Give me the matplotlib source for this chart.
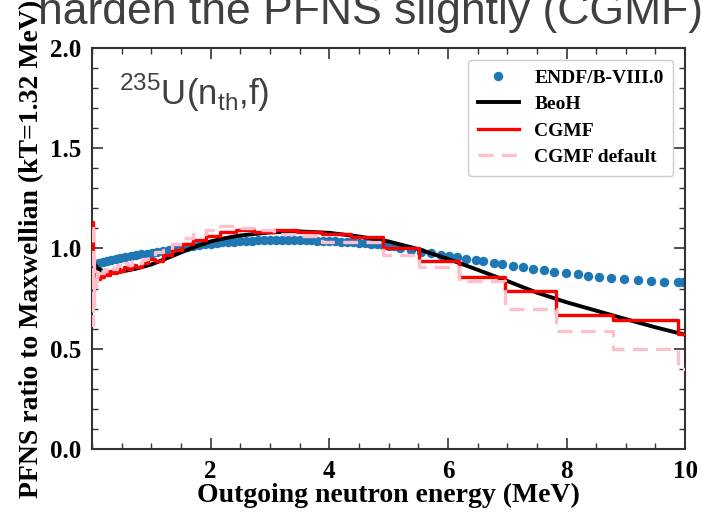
import matplotlib
matplotlib.use('Agg')
import matplotlib.pyplot as plt
from matplotlib.ticker import MultipleLocator, FormatStrFormatter

plt.rcParams['font.family'] = ['Liberation Serif', 'DejaVu Serif']
plt.rcParams['mathtext.fontset'] = 'custom'
plt.rcParams['mathtext.rm'] = 'Liberation Sans'

# ENDF/B-VIII.0 points (ratio to Maxwellian)
endf_e = [0.07, 0.12, 0.18, 0.25, 0.32, 0.4, 0.48, 0.56, 0.65, 0.74, 0.83, 0.92,
          1.01, 1.1, 1.2, 1.3, 1.4, 1.5, 1.6, 1.7, 1.8, 1.9, 2.0, 2.1, 2.2, 2.3,
          2.4, 2.5, 2.6, 2.7, 2.8, 2.9, 3.0, 3.1, 3.2, 3.3, 3.4, 3.5, 3.6, 3.7,
          3.8, 3.9, 4.0, 4.1, 4.2, 4.3, 4.4, 4.5, 4.6, 4.7, 4.8, 4.9, 5.0, 5.1,
          5.2, 5.37, 5.54, 5.71, 5.88, 6.02, 6.16, 6.3, 6.47, 6.6, 6.77, 6.92,
          7.09, 7.26, 7.43, 7.62, 7.79, 7.99, 8.19, 8.36, 8.55, 8.75, 8.97, 9.2,
          9.43, 9.65, 9.88, 9.97]
endf_r = [0.925, 0.93, 0.935, 0.94, 0.944, 0.948, 0.953, 0.957, 0.962, 0.966, 0.971, 0.975,
          0.979, 0.984, 0.989, 0.994, 0.999, 1.004, 1.008, 1.012, 1.016, 1.02, 1.024, 1.027, 1.03, 1.032,
          1.034, 1.036, 1.038, 1.039, 1.04, 1.041, 1.042, 1.042, 1.042, 1.042, 1.042, 1.042, 1.041, 1.04,
          1.039, 1.038, 1.037, 1.035, 1.034, 1.032, 1.03, 1.028, 1.026, 1.023, 1.02, 1.017, 1.014, 1.01,
          1.0, 0.99, 0.984, 0.977, 0.97, 0.963, 0.957, 0.95, 0.943, 0.936, 0.929, 0.922,
          0.914, 0.906, 0.899, 0.892, 0.885, 0.878, 0.871, 0.865, 0.859, 0.853, 0.847, 0.842,
          0.838, 0.835, 0.833, 0.833]

# BeoH curve
beoh_e = [0.02, 0.05, 0.1, 0.2, 0.3, 0.5, 0.75, 1.0, 1.25, 1.5, 1.75, 2.0, 2.25, 2.5,
          3.0, 3.5, 4.0, 4.5, 5.0, 5.5, 6.0, 6.5, 7.0, 7.5, 8.0, 8.5, 9.0, 9.5, 10.0]
beoh_r = [0.95, 0.92, 0.9, 0.885, 0.88, 0.885, 0.9, 0.92, 0.95, 0.98, 1.01, 1.035, 1.052, 1.065,
          1.08, 1.085, 1.078, 1.06, 1.035, 0.997, 0.948, 0.894, 0.838, 0.78, 0.732, 0.69, 0.648, 0.607, 0.57]

# CGMF histograms (bin edges in MeV)
bin_edges = [0.0, 0.01, 0.02, 0.03, 0.04, 0.06, 0.08, 0.1, 0.13, 0.16, 0.2, 0.25, 0.3, 0.36,
             0.42, 0.48, 0.54, 0.6, 0.67, 0.75, 0.85, 0.95, 1.07, 1.2, 1.35, 1.52, 1.71, 1.92,
             2.16, 2.43, 2.73, 3.07, 3.45, 3.88, 4.36, 4.9, 5.51, 6.19, 6.96, 7.82, 8.79, 9.88, 11.1]
cgmf_r = [1.13, 1.0, 0.93, 0.9, 0.88, 0.86, 0.87, 0.85, 0.87, 0.86, 0.88, 0.87, 0.89, 0.88,
          0.9, 0.89, 0.91, 0.9, 0.92, 0.91, 0.93, 0.95, 0.94, 0.97, 0.99, 1.02, 1.04, 1.06,
          1.08, 1.09, 1.08, 1.09, 1.08, 1.07, 1.055, 1.0, 0.94, 0.86, 0.79, 0.67, 0.645, 0.575]
cgmf_def_r = [1.1, 0.62, 0.95, 0.72, 0.85, 0.8, 0.88, 0.86, 0.89, 0.88, 0.9, 0.89, 0.91, 0.9,
              0.92, 0.91, 0.93, 0.92, 0.94, 0.93, 0.95, 0.96, 0.98, 0.99, 1.02, 1.05, 1.07, 1.09,
              1.11, 1.1, 1.09, 1.07, 1.06, 1.03, 1.03, 0.97, 0.91, 0.84, 0.7, 0.59, 0.5, 0.4]

fig = plt.figure(figsize=(7.02, 5.15), dpi=100)
ax = fig.add_axes([0.131, 0.128, 0.845, 0.779])

ax.plot(endf_e, endf_r, 'o', color='#1f77b4', markersize=6.8, markeredgewidth=0,
        label='ENDF/B-VIII.0', zorder=2)
ax.plot(beoh_e, beoh_r, color='black', lw=2.8, label='BeoH', zorder=3)
ax.step(bin_edges, cgmf_r + [cgmf_r[-1]], where='post', color='red', lw=2.4,
        label='CGMF', zorder=4)
ax.step(bin_edges, cgmf_def_r + [cgmf_def_r[-1]], where='post', color='pink', lw=2.4,
        dashes=(4.5, 2.5), label='CGMF default', zorder=5)

ax.set_xlim(0, 10)
ax.set_ylim(0, 2)
ax.set_xticks([2, 4, 6, 8, 10])
ax.xaxis.set_minor_locator(MultipleLocator(0.5))
ax.yaxis.set_major_locator(MultipleLocator(0.5))
ax.yaxis.set_minor_locator(MultipleLocator(0.1))
ax.yaxis.set_major_formatter(FormatStrFormatter('%.1f'))
ax.tick_params(which='both', direction='in', top=True, right=True, labelsize=18,
               color='#333333', pad=8)
ax.tick_params(which='major', length=8, width=1.2)
ax.tick_params(which='minor', length=4, width=1)
plt.setp(ax.get_xticklabels() + ax.get_yticklabels(), fontweight='bold')
for s in ax.spines.values():
    s.set_linewidth(1.5)
    s.set_color('#333333')

ax.set_xlabel('Outgoing neutron energy (MeV)', fontsize=20, fontweight='bold', labelpad=0)
ax.set_ylabel('PFNS ratio to Maxwellian (kT=1.32 MeV)', fontsize=20, fontweight='bold',
              labelpad=4)

ax.text(0.045, 0.94, r'$^{235}$U(n$_{\rm th}$,f)', transform=ax.transAxes,
        fontsize=25, color='#404040', family='Liberation Sans',
        ha='left', va='top')

ax.legend(loc='upper right', prop={'weight': 'bold', 'size': 14},
          handlelength=2.1, borderpad=0.5, labelspacing=0.45, framealpha=1,
          edgecolor='#cccccc', borderaxespad=0.6)

fig.text(0.054, 0.953, 'harden the PFNS slightly (CGMF)', fontsize=32, color='#404040',
         family='Liberation Sans', ha='left', va='baseline')

fig.savefig('out.png', dpi=100)
